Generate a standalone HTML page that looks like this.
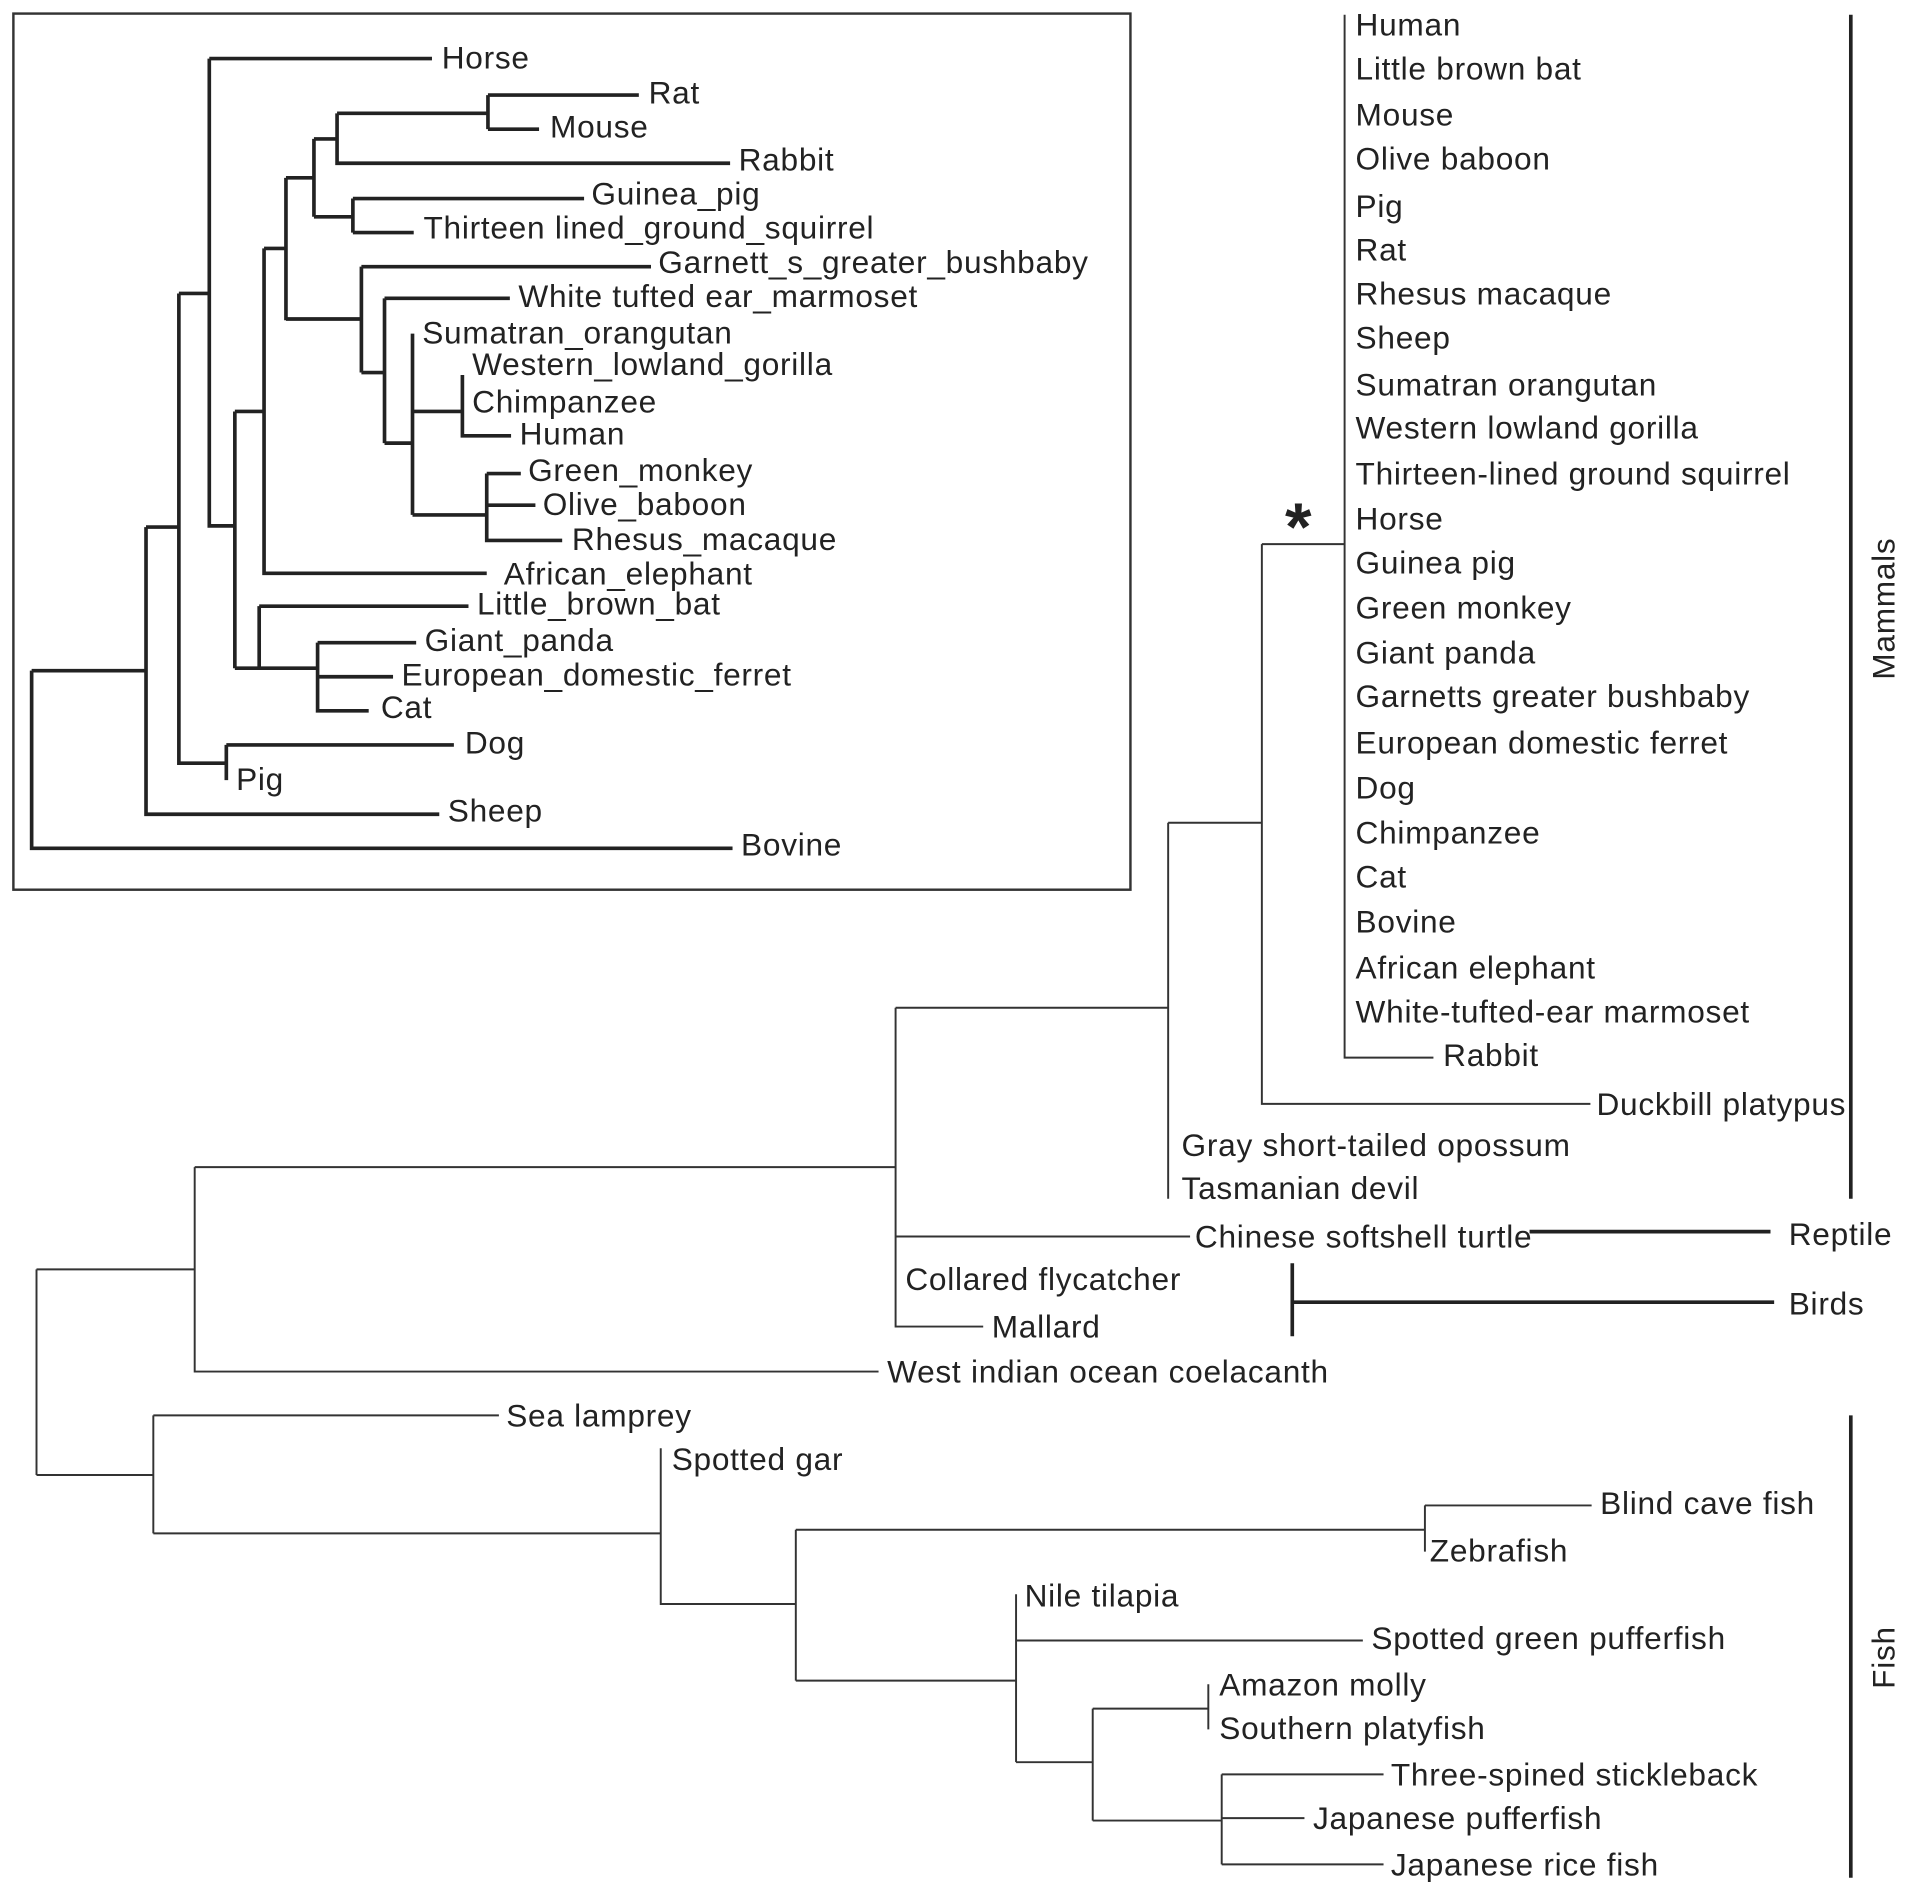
<!DOCTYPE html>
<html><head><meta charset="utf-8"><style>html,body{margin:0;padding:0;background:#fff}svg{display:block}</style></head>
<body>
<svg width="1908" height="1895" viewBox="0 0 1568 1557" xmlns="http://www.w3.org/2000/svg" font-family="Liberation Sans, Arial, sans-serif" font-size="26" letter-spacing="0.6" fill="#222">
<g stroke="#333" stroke-width="1.6" fill="none">
<path d="M1105 12V869H1178M1037 447H1105M1037 447V907H1307M960 676H1037M960 676V985M736 828H960M736 828V1090H808M736 1016H978M160 959H736M160 959V1127H722M30 1043V1212M30 1043H160M30 1212H126M126 1163V1260M126 1163H410M126 1260H543M543 1190V1318H654M654 1257V1381M654 1257H1171M1171 1237V1275M1171 1237H1308M654 1381H835M835 1310V1448M835 1348H1120M835 1448H898M898 1404V1496M898 1404H993M993 1384V1421M898 1496H1004M1004 1458V1532M1004 1458H1137M1004 1494H1072M1004 1532H1137"/>
</g>
<g stroke="#222" stroke-width="3" fill="none">
<path d="M1521 12V985M1521 1163V1543M1257 1012H1455M1062 1038V1098M1062 1070H1458"/>
</g>
<rect x="11" y="11" width="918" height="720" fill="none" stroke="#333" stroke-width="2"/>
<g stroke="#222" stroke-width="3" fill="none">
<path d="M26 551V697H602M26 551H120M120 433V669H361M120 433H147M147 241V627H186M186 612V641M186 612H373M147 241H172M172 48V432H193M172 48H355M193 338V549M193 338H217M217 204V471H400M217 204H235M235 146V263M235 146H258M258 114V178M258 114H277M277 93V134H600M277 93H401M401 78V106M401 78H525M401 106H443M258 178H290M290 163V191M290 163H480M290 191H340M235 262H297M297 219V306M297 219H535M297 306H316M316 245V364M316 245H419M316 364H339M339 274V423M339 338H380M380 308V358H420M339 423H400M400 389V444H462M400 389H428M400 415H440M193 549H213M213 498V549M213 498H385M213 549H261M261 528V584H303M261 528H342M261 556H323"/>
</g>
<g dominant-baseline="central">
<text x="363" y="47">Horse</text><text x="533" y="76">Rat</text><text x="452" y="104">Mouse</text><text x="607" y="131">Rabbit</text>
<text x="486" y="159">Guinea_pig</text><text x="348" y="187">Thirteen lined_ground_squirrel</text><text x="541" y="215">Garnett_s_greater_bushbaby</text>
<text x="426" y="243">White tufted ear_marmoset</text><text x="347" y="273">Sumatran_orangutan</text><text x="388" y="299">Western_lowland_gorilla</text>
<text x="388" y="330">Chimpanzee</text><text x="427" y="356">Human</text><text x="434" y="386">Green_monkey</text><text x="446" y="414">Olive_baboon</text>
<text x="470" y="443">Rhesus_macaque</text><text x="414" y="471">African_elephant</text><text x="392" y="496">Little_brown_bat</text><text x="349" y="526">Giant_panda</text>
<text x="330" y="554">European_domestic_ferret</text><text x="313" y="581">Cat</text><text x="382" y="610">Dog</text><text x="194" y="640">Pig</text><text x="368" y="666">Sheep</text><text x="609" y="694">Bovine</text>

<text x="1114" y="20">Human</text><text x="1114" y="56">Little brown bat</text><text x="1114" y="94">Mouse</text><text x="1114" y="130">Olive baboon</text>
<text x="1114" y="169">Pig</text><text x="1114" y="205">Rat</text><text x="1114" y="241">Rhesus macaque</text><text x="1114" y="277">Sheep</text>
<text x="1114" y="316">Sumatran orangutan</text><text x="1114" y="351">Western lowland gorilla</text><text x="1114" y="389">Thirteen-lined ground squirrel</text>
<text x="1114" y="426">Horse</text><text x="1114" y="462">Guinea pig</text><text x="1114" y="499">Green monkey</text><text x="1114" y="536">Giant panda</text>
<text x="1114" y="572">Garnetts greater bushbaby</text><text x="1114" y="610">European domestic ferret</text><text x="1114" y="647">Dog</text>
<text x="1114" y="684">Chimpanzee</text><text x="1114" y="720">Cat</text><text x="1114" y="757">Bovine</text><text x="1114" y="795">African elephant</text>
<text x="1114" y="831">White-tufted-ear marmoset</text><text x="1186" y="867">Rabbit</text><text x="1312" y="907">Duckbill platypus</text>
<text x="971" y="941">Gray short-tailed opossum</text><text x="971" y="976">Tasmanian devil</text><text x="982" y="1016">Chinese softshell turtle</text>
<text x="744" y="1051">Collared flycatcher</text><text x="815" y="1090">Mallard</text><text x="729" y="1127">West indian ocean coelacanth</text>
<text x="416" y="1163">Sea lamprey</text><text x="552" y="1199">Spotted gar</text><text x="1315" y="1235">Blind cave fish</text><text x="1175" y="1274">Zebrafish</text>
<text x="842" y="1311">Nile tilapia</text><text x="1127" y="1346">Spotted green pufferfish</text><text x="1002" y="1384">Amazon molly</text>
<text x="1002" y="1420">Southern platyfish</text><text x="1143" y="1458">Three-spined stickleback</text><text x="1079" y="1494">Japanese pufferfish</text>
<text x="1143" y="1532">Japanese rice fish</text>
<text x="1470" y="1014">Reptile</text><text x="1470" y="1071">Birds</text>
<text transform="translate(1548 500) rotate(-90)" text-anchor="middle">Mammals</text>
<text transform="translate(1548 1362) rotate(-90)" text-anchor="middle">Fish</text>
</g>
<text x="1056" y="452" font-size="56" font-weight="bold">*</text>
</svg>
</body></html>
